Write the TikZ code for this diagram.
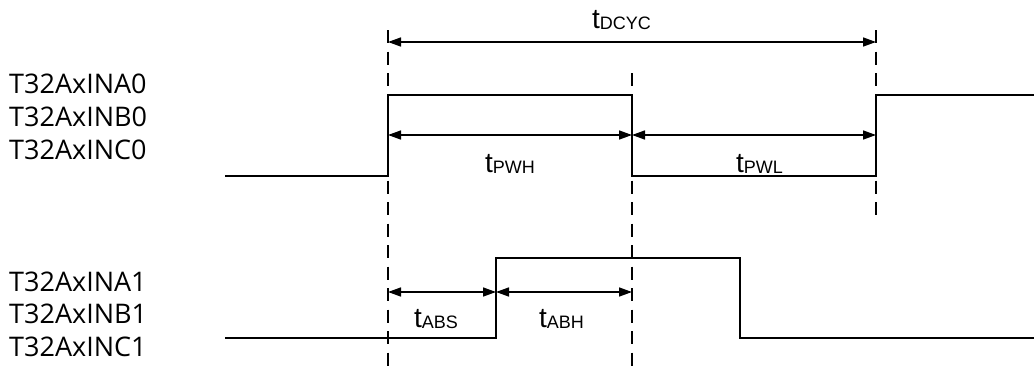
\documentclass[tikz,border=0pt]{standalone}
\usepackage{fontspec}
\setmainfont{Open Sans}
\newfontfamily\arialfont{Liberation Sans}
\usetikzlibrary{arrows.meta}
\begin{document}
\begin{tikzpicture}[x=1pt,y=-1pt,
  signal/.style={line width=2.2pt,line join=miter,line cap=rect},
  guide/.style={line width=1.8pt,dash pattern=on 13pt off 8.5pt},
  dim/.style={line width=1.5pt,{Triangle[length=13pt,width=9pt]}-{Triangle[length=13pt,width=9pt]}},
  sig/.style={anchor=base west,inner sep=0pt,font=\fontsize{27}{33}\selectfont},
  tlab/.style={anchor=base west,inner sep=0pt,font=\arialfont\fontsize{28}{30}\selectfont}]
\useasboundingbox (0,0) rectangle (1034,367);
% left labels
\node[sig] (a0) at (9,93) {T32AxINA0};
\node[sig] (b0) at (9,126) {T32AxINB0};
\node[sig] (c0) at (9,159) {T32AxINC0};
\node[sig] (a1) at (9,291) {T32AxINA1};
\node[sig] (b1) at (9,323) {T32AxINB1};
\node[sig] (c1) at (9,356) {T32AxINC1};
% guide lines
\coordinate (g1t) at (388,30);  \coordinate (g1b) at (388,367);
\coordinate (g2t) at (632,73);  \coordinate (g2b) at (632,367);
\coordinate (g3t) at (876,30);  \coordinate (g3b) at (876,215);
\draw[guide] (g1t) -- (g1b);
\draw[guide] (g2t) -- (g2b);
\draw[guide] (g3t) -- (g3b);
% signals
\draw[signal] (226,176) -- (388,176) -- (388,95) -- (632,95) -- (632,176) -- (876,176) -- (876,95) -- (1034,95);
\draw[signal] (226,338) -- (496,338) -- (496,258) -- (740,258) -- (740,338) -- (1034,338);
% dimension coordinates
\coordinate (d1) at (388,42);  \coordinate (d2) at (876,42);
\coordinate (p1) at (388,135); \coordinate (p2) at (632,135); \coordinate (p3) at (876,135);
\coordinate (s1) at (388,292); \coordinate (s2) at (496,292); \coordinate (s3) at (632,292);
\draw[dim] (d1) -- (d2);
\draw[dim] (p1) -- (p2);
\draw[dim] (p2) -- (p3);
\draw[dim] (s1) -- (s2);
\draw[dim] (s2) -- (s3);
% timing labels
\newcommand{\tsub}[1]{t\raisebox{-1pt}{\fontsize{18}{20}\selectfont #1}}
\node[tlab] (ldcyc) at (592,28) {\tsub{DCYC}};
\node[tlab] (lpwh) at (485,172) {\tsub{PWH}};
\node[tlab] (lpwl) at (736,172) {\tsub{PWL}};
\node[tlab] (labs) at (414,327) {\tsub{ABS}};
\node[tlab] (labh) at (539,327) {\tsub{ABH}};
\end{tikzpicture}
\end{document}
